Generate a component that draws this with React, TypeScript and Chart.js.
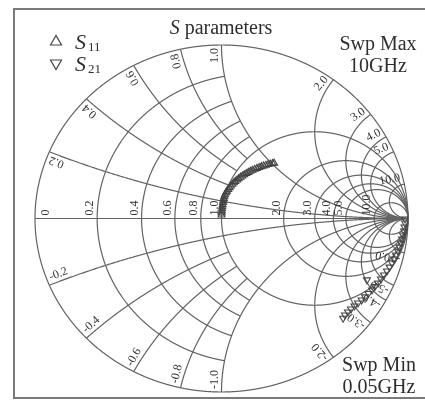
import React, { useEffect, useRef } from "react";
import { Chart, registerables } from "chart.js";

Chart.register(...registerables);

// ---- Smith chart grid ----
const resistanceValues = [0, 0.2, 0.4, 0.6, 0.8, 1.0, 2.0, 3.0, 4.0, 5.0, 10.0];
const resistanceLabels = ["0", "0.2", "0.4", "0.6", "0.8", "1.0", "2.0", "3.0", "4.0", "5.0", "10.0"];
// largest |reactance| up to which each resistance circle is drawn
const resistanceReach = [Infinity, 1, 1, 1, 1, Infinity, Infinity, Infinity, Infinity, Infinity, Infinity];
const reactanceValues = [0.2, 0.4, 0.6, 0.8, 1.0, 2.0, 3.0, 4.0, 5.0, 10.0];
const reactanceLabels = ["0.2", "0.4", "0.6", "0.8", "1.0", "2.0", "3.0", "4.0", "5.0", "10.0"];
// largest resistance up to which each reactance arc is drawn
const reactanceReach = [Infinity, 1, 1, 1, Infinity, Infinity, Infinity, Infinity, Infinity, Infinity];

// ---- S11 (reflection coefficient, real / imaginary) ----
const s11Re = [0.000, 0.001, 0.002, 0.003, 0.004, 0.006, 0.008, 0.010, 0.012, 0.015, 0.019, 0.024, 0.029, 0.036, 0.043, 0.050, 0.058, 0.066, 0.074, 0.083, 0.092, 0.102, 0.112, 0.122, 0.133, 0.144, 0.155, 0.166, 0.178, 0.190, 0.202, 0.214, 0.226, 0.238, 0.250, 0.262, 0.274, 0.282];
const s11Im = [0.020, 0.032, 0.044, 0.056, 0.068, 0.080, 0.092, 0.103, 0.115, 0.126, 0.137, 0.148, 0.158, 0.168, 0.178, 0.187, 0.197, 0.206, 0.214, 0.222, 0.230, 0.238, 0.245, 0.252, 0.259, 0.266, 0.272, 0.278, 0.284, 0.289, 0.294, 0.299, 0.303, 0.307, 0.311, 0.314, 0.317, 0.319];

// ---- S21 (real / imaginary) ----
const s21Re = [0.984, 0.984, 0.981, 0.979, 0.973, 0.968, 0.962, 0.954, 0.946, 0.936, 0.925, 0.914, 0.901, 0.887, 0.871, 0.855, 0.839, 0.823, 0.807, 0.788, 0.769, 0.751, 0.732, 0.713, 0.694, 0.678, 0.662, 0.652, 0.780];
const s21Im = [-0.003, -0.026, -0.049, -0.072, -0.095, -0.118, -0.141, -0.164, -0.187, -0.210, -0.233, -0.256, -0.280, -0.303, -0.326, -0.349, -0.372, -0.392, -0.412, -0.432, -0.452, -0.470, -0.487, -0.504, -0.522, -0.539, -0.556, -0.575, -0.354];

const SERIF = '"Liberation Serif", "Times New Roman", serif';
const GRID = "#626262";
const INK = "#2e2e2e";

const smithPlugin = {
  id: "smithGrid",
  beforeDatasetsDraw(chart: any) {
    const ctx: CanvasRenderingContext2D = chart.ctx;
    const xs = chart.scales.x;
    const ys = chart.scales.y;
    const P = (a: number, b: number): [number, number] => [xs.getPixelForValue(a), ys.getPixelForValue(b)];

    ctx.save();
    // frame
    ctx.strokeStyle = "#7a7a7a";
    ctx.lineWidth = 2;
    ctx.strokeRect(14, 9, 440, 389);

    ctx.strokeStyle = GRID;
    ctx.lineWidth = 1.2;
    const drawRuns = (runs: [number, number][][]) => {
      runs.forEach((run) => {
        if (run.length < 2) return;
        ctx.beginPath();
        ctx.moveTo(run[0][0], run[0][1]);
        for (let i = 1; i < run.length; i++) ctx.lineTo(run[i][0], run[i][1]);
        ctx.stroke();
      });
    };

    // resistance circles
    resistanceValues.forEach((r, i) => {
      const c = r / (1 + r);
      const R = 1 / (1 + r);
      const lim = resistanceReach[i];
      const N = 3000;
      const runs: [number, number][][] = [];
      let run: [number, number][] = [];
      for (let k = 0; k <= N; k++) {
        const ph = 1e-4 + ((2 * Math.PI - 2e-4) * k) / N;
        const a = c + R * Math.cos(ph);
        const b = R * Math.sin(ph);
        const D = (1 - a) * (1 - a) + b * b;
        const x = (2 * b) / D;
        if (Math.abs(x) <= lim) run.push(P(a, b));
        else if (run.length) { runs.push(run); run = []; }
      }
      if (run.length) runs.push(run);
      drawRuns(runs);
    });

    // reactance arcs
    reactanceValues.forEach((xv, i) => {
      [1, -1].forEach((sg) => {
        const x = sg * xv;
        const R = 1 / Math.abs(x);
        const lim = reactanceReach[i];
        const N = 8000;
        const runs: [number, number][][] = [];
        let run: [number, number][] = [];
        for (let k = 0; k <= N; k++) {
          const th = (2 * Math.PI * k) / N;
          const a = 1 + R * Math.cos(th);
          const b = 1 / x + R * Math.sin(th);
          const m2 = a * a + b * b;
          const D = (1 - a) * (1 - a) + b * b;
          const r = D > 1e-12 ? (1 - m2) / D : Infinity;
          if (m2 <= 1 + 1e-9 && r <= lim) run.push(P(a, b));
          else if (run.length) { runs.push(run); run = []; }
        }
        if (run.length) runs.push(run);
        drawRuns(runs);
      });
    });

    // real axis
    const [lx, ly] = P(-1, 0);
    const [rx, ry] = P(1, 0);
    ctx.beginPath();
    ctx.moveTo(lx, ly);
    ctx.lineTo(rx, ry);
    ctx.stroke();

    // labels
    ctx.fillStyle = "#333";
    ctx.font = `12px ${SERIF}`;
    const [cx, cy] = P(0, 0);
    resistanceValues.forEach((r, i) => {
      const [px, py] = P((r - 1) / (r + 1), 0);
      ctx.save();
      ctx.translate(px, py);
      ctx.rotate(-Math.PI / 2);
      ctx.textAlign = "left";
      if (r === 0) {
        ctx.textBaseline = "top";
        ctx.fillText(resistanceLabels[i], 3, 5);
      } else {
        ctx.textBaseline = "bottom";
        ctx.fillText(resistanceLabels[i], 3, -1);
      }
      ctx.restore();
    });
    reactanceValues.forEach((xv, i) => {
      [1, -1].forEach((sg) => {
        const x = sg * xv;
        const d = x * x + 1;
        const [px, py] = P((x * x - 1) / d, (2 * x) / d);
        const ang = Math.atan2(py - cy, px - cx);
        ctx.save();
        ctx.translate(px, py);
        ctx.textBaseline = "bottom";
        if (sg > 0) {
          ctx.rotate(ang);
          ctx.textAlign = "right";
          ctx.fillText(reactanceLabels[i], -3, -1);
        } else {
          ctx.rotate(ang + Math.PI);
          ctx.textAlign = "left";
          ctx.fillText("-" + reactanceLabels[i], 3, -1);
        }
        ctx.restore();
      });
    });
    ctx.restore();
  },
};

function Txt(props: { x: number; baseline: number; size: number; align?: "left" | "center"; italic?: boolean; children: any }) {
  const { x, baseline, size, align = "left", italic = false } = props;
  const top = baseline - 0.8375 * size;
  const style: any = {
    position: "absolute",
    top,
    fontSize: size,
    lineHeight: `${size}px`,
    whiteSpace: "nowrap",
    fontStyle: italic ? "italic" : "normal",
    fontFamily: SERIF,
    color: INK,
  };
  if (align === "center") {
    style.left = x - 100;
    style.width = 200;
    style.textAlign = "center";
  } else {
    style.left = x;
  }
  return <div style={style}>{props.children}</div>;
}

export default function App() {
  const ref = useRef<HTMLCanvasElement>(null);
  useEffect(() => {
    if (!ref.current) return;
    const chart = new Chart(ref.current, {
      type: "scatter",
      data: {
        datasets: [
          {
            label: "S11",
            data: s11Re.map((re, i) => ({ x: re, y: s11Im[i] })),
            pointStyle: "triangle",
            pointRadius: 4,
            borderColor: "#444",
            backgroundColor: "rgba(0,0,0,0)",
            borderWidth: 1.1,
            showLine: false,
          },
          {
            label: "S21",
            data: s21Re.map((re, i) => ({ x: re, y: s21Im[i] })),
            pointStyle: "triangle",
            rotation: 180,
            pointRadius: 4,
            borderColor: "#444",
            backgroundColor: "rgba(0,0,0,0)",
            borderWidth: 1.1,
            showLine: false,
          },
        ],
      },
      options: {
        responsive: false,
        animation: false,
        layout: { padding: { left: 35, right: 17, top: 45, bottom: 8 } },
        scales: {
          x: { type: "linear", min: -1, max: 1, display: false },
          y: { type: "linear", min: -1, max: 1, display: false },
        },
        plugins: { legend: { display: false }, tooltip: { enabled: false }, title: { display: false } },
      } as any,
      plugins: [smithPlugin],
    });
    return () => chart.destroy();
  }, []);

  return (
    <div style={{ position: "fixed", left: 0, top: 0, width: 425, height: 400, background: "#fff", overflow: "hidden" }}>
      <canvas ref={ref} width={425} height={400} style={{ position: "absolute", left: 0, top: 0, width: 425, height: 400 }} />
      <Txt x={221} baseline={33.5} size={20} align="center">
        <i>S</i> parameters
      </Txt>
      <svg width={425} height={400} style={{ position: "absolute", left: 0, top: 0, pointerEvents: "none" }}>
        <polygon points="50.5,45 56,35.5 61.5,45" fill="none" stroke="#444" strokeWidth={1.2} />
        <polygon points="50.5,60 61.5,60 56,69.5" fill="none" stroke="#444" strokeWidth={1.2} />
      </svg>
      <Txt x={75} baseline={49} size={22} italic>S</Txt>
      <Txt x={88} baseline={51} size={13}>11</Txt>
      <Txt x={75} baseline={71} size={22} italic>S</Txt>
      <Txt x={88} baseline={73} size={13}>21</Txt>
      <Txt x={378} baseline={50} size={20} align="center">Swp Max</Txt>
      <Txt x={378} baseline={72} size={20} align="center">10GHz</Txt>
      <Txt x={379} baseline={371} size={20} align="center">Swp Min</Txt>
      <Txt x={379} baseline={393} size={20} align="center">0.05GHz</Txt>
    </div>
  );
}
